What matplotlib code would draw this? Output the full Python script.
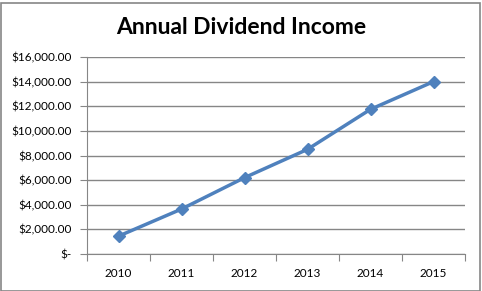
import matplotlib
matplotlib.use("Agg")
import matplotlib.pyplot as plt
from matplotlib.patches import Rectangle
from matplotlib.ticker import FuncFormatter

years = ["2010", "2011", "2012", "2013", "2014", "2015"]
income = [1450, 3650, 6200, 8500, 11750, 14000]
y_ticks = [0, 2000, 4000, 6000, 8000, 10000, 12000, 14000, 16000]

LINE = "#4F81BD"
GRID = "#868686"


def money(v, pos=None):
    if v == 0:
        return "$-"
    return f"${v:,.2f}"


fig = plt.figure(figsize=(4.82, 2.91), dpi=100)
fig.patches.append(Rectangle((0.5 / 482, 0.5 / 291), 479.5 / 482, 288 / 291,
                             transform=fig.transFigure, fill=False,
                             edgecolor=GRID, linewidth=1.2))
ax = fig.add_axes([87 / 482, 37 / 291, 378 / 482, 197 / 291])

xs = [i + 0.5 for i in range(len(years))]
ax.plot(xs, income, color=LINE, linewidth=2.5, marker="D", markersize=6,
        clip_on=False)

ax.set_xlim(0, len(years))
ax.set_ylim(0, 16000)
ax.set_yticks(y_ticks)
ax.yaxis.set_major_formatter(FuncFormatter(money))
ax.set_xticks(range(len(years) + 1))
ax.set_xticklabels([])
ax.set_xticks(xs, minor=True)
ax.set_xticklabels(years, minor=True)
ax.tick_params(axis="x", which="minor", length=0, pad=10)
ax.tick_params(axis="x", which="major", length=5, color=GRID, direction="out")
ax.tick_params(axis="y", length=5, color=GRID, direction="out", pad=6)
for lbl in ax.get_xticklabels(minor=True) + ax.get_yticklabels():
    lbl.set_fontfamily("Lato")
    lbl.set_fontsize(8.5)

ax.grid(axis="y", color=GRID, linewidth=1)
ax.set_axisbelow(True)
for side in ["top", "right"]:
    ax.spines[side].set_visible(False)
for side in ["left", "bottom"]:
    ax.spines[side].set_color(GRID)

fig.text(0.5, 1 - 27 / 291, "Annual Dividend Income", ha="center", va="center",
         fontsize=16.5, fontweight="bold", family="Lato")

fig.savefig("out.png", dpi=100)
